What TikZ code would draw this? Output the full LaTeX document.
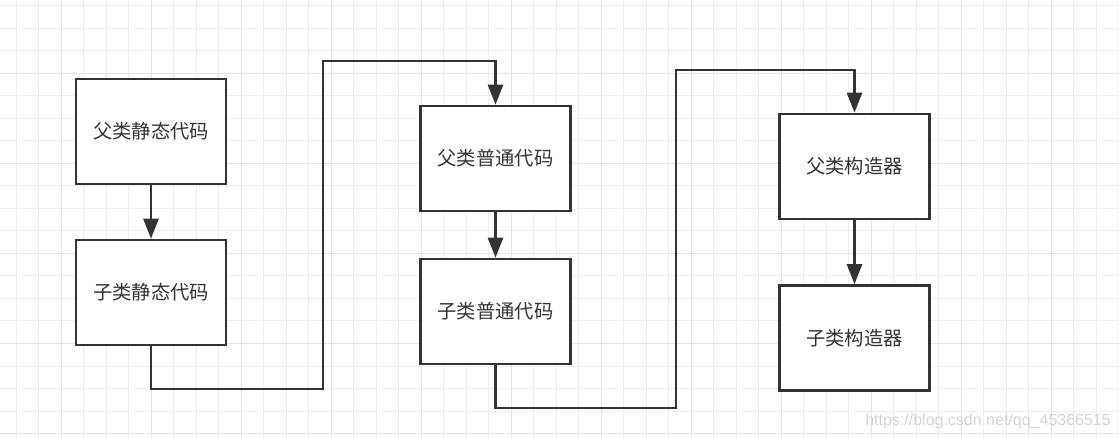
\documentclass[tikz,border=0pt]{standalone}
\usepackage{fontspec}
\setmainfont{Liberation Sans}
\newfontfamily\cjk{Noto Sans CJK SC}
\usetikzlibrary{arrows.meta}
\definecolor{ink}{HTML}{333333}
\definecolor{gridminor}{HTML}{EEEEEE}
\definecolor{gridmajor}{HTML}{E4E4E4}
\definecolor{wm}{HTML}{D4D4D4}
\tikzset{
  stepbox/.style={draw=ink, line width=2.6pt, fill=white, minimum width=150pt, minimum height=105pt, inner sep=0pt, font=\cjk\fontsize{19.3}{21}\selectfont, text=ink},
  conn/.style={draw=ink, line width=2.6pt, -{Triangle[length=20pt,width=15pt]}}
}
\begin{document}
\begin{tikzpicture}[x=1pt,y=-1pt]
\useasboundingbox (0,0) rectangle (1119,438);
\fill[white] (0,0) rectangle (1119,438);
% grid
\foreach \i in {0,...,49} {
  \pgfmathsetmacro{\xx}{16+22.5*\i}
  \draw[gridminor, line width=1pt] (\xx,0) -- (\xx,438);
}
\foreach \i in {0,...,19} {
  \pgfmathsetmacro{\yy}{6+22.5*\i}
  \draw[gridminor, line width=1pt] (0,\yy) -- (1119,\yy);
}
\foreach \i in {0,...,12} {
  \pgfmathsetmacro{\xx}{61+90*\i}
  \draw[gridmajor, line width=1pt] (\xx,0) -- (\xx,438);
}
\foreach \i in {0,...,4} {
  \pgfmathsetmacro{\yy}{73.5+90*\i}
  \draw[gridmajor, line width=1pt] (0,\yy) -- (1119,\yy);
}
% boxes
\node[stepbox] (a) at (151,131.5) {父类静态代码};
\node[stepbox] (b) at (151,292.5) {子类静态代码};
\node[stepbox] (c) at (495.5,158.5) {父类普通代码};
\node[stepbox] (d) at (495.5,311.5) {子类普通代码};
\node[stepbox] (e) at (854.5,166.5) {父类构造器};
\node[stepbox] (f) at (854.5,338) {子类构造器};
% connectors
\draw[conn] (a.south) -- (b.north);
\draw[conn] (c.south) -- (d.north);
\draw[conn] (e.south) -- (f.north);
\draw[conn] (b.south) -- (151,389) -- (323,389) -- (323,61) -- (c.north |- 0,61) -- (c.north);
\draw[conn] (d.south) -- (495.5,408) -- (676,408) -- (676,70) -- (e.north |- 0,70) -- (e.north);
% watermark
\node[anchor=base east, text=wm, font=\fontsize{16}{18}\selectfont, inner sep=0pt] (wmk) at (1111,425) {https://blog.csdn.net/qq\_45366515};
\end{tikzpicture}
\end{document}
